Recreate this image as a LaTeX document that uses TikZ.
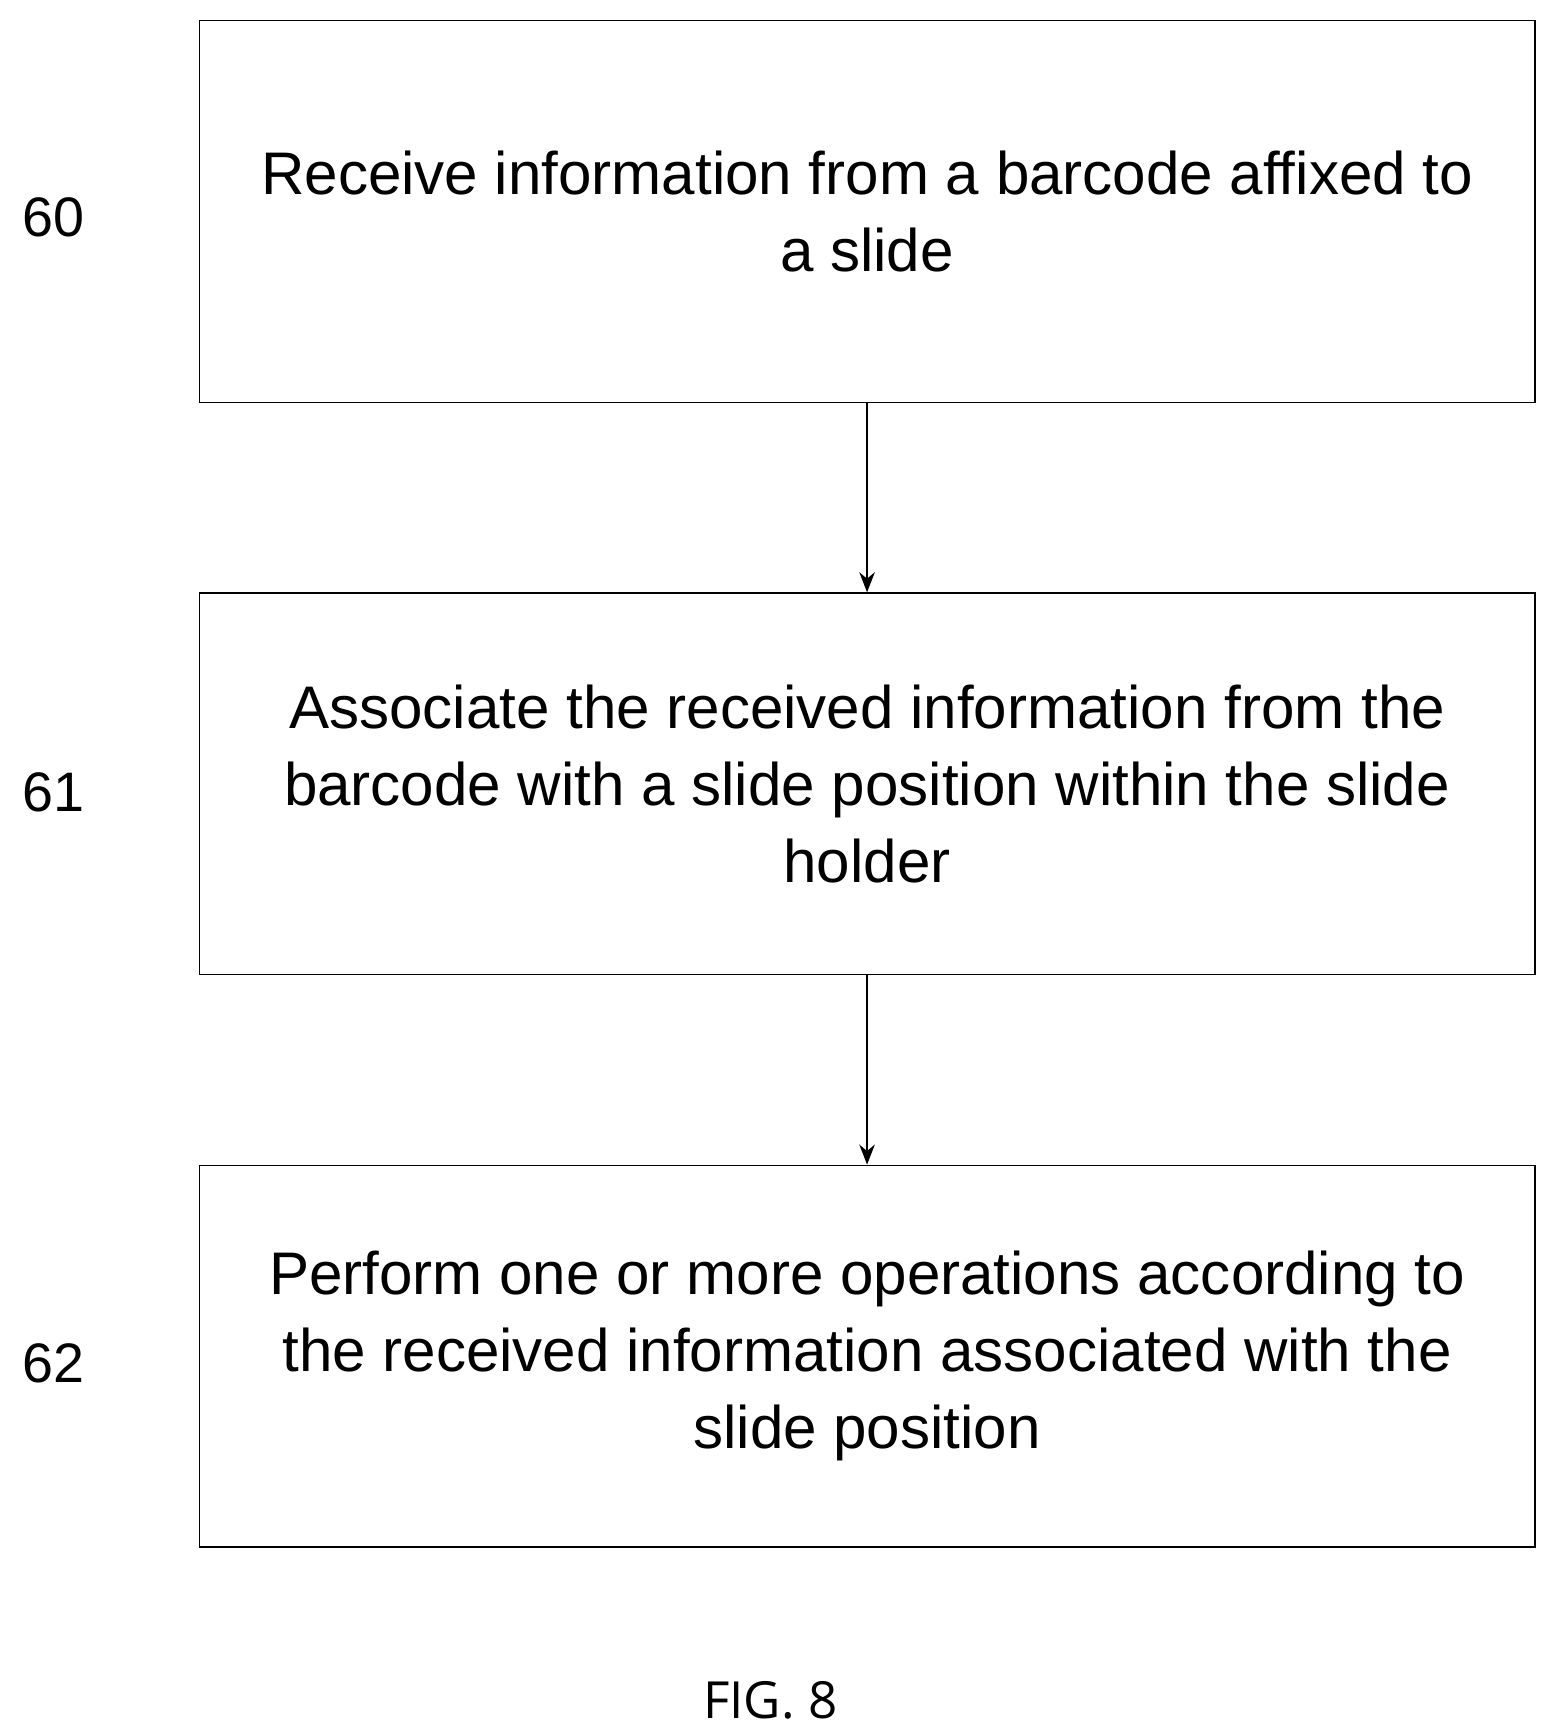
\documentclass[tikz,border=0pt]{standalone}
\usepackage{fontspec}
\setmainfont{Liberation Sans}
\newfontfamily\figfont{Open Sans}
\usetikzlibrary{positioning,arrows.meta}

\begin{document}
\begin{tikzpicture}[x=1pt, y=-1pt, node distance = 170pt,
  stepbox/.style = {draw, line width=1.2pt, minimum width=1200pt, minimum height=343pt, inner sep=0pt, align=center, font=\fontsize{54}{69}\selectfont},
  num/.style = {font=\fontsize{50}{56}\selectfont}]
\useasboundingbox (0,0) rectangle (1390,1557);
\node[stepbox] (recv) at (779, 190) {Receive information from a barcode affixed to\\ a slide};
\node[stepbox, below=of recv] (assoc) {Associate the received information from the\\ barcode with a slide position within the slide\\ holder};
\node[stepbox, below=of assoc] (perform) {Perform one or more operations according to\\ the received information associated with the\\ slide position};

\node[num] (n60) at (48, 195) {60};
\node[num] (n61) at (48, 712) {61};
\node[num] (n62) at (48, 1225) {62};

\node[font=\figfont\fontsize{46}{56}\selectfont] (fig) at (692, 1528) {FIG. 8};

\begin{scope}[line width=1.2pt, -{Stealth[length=18pt, width=14pt]}]
\draw (recv) -- (assoc);
\draw (assoc) -- (perform);
\end{scope}
\end{tikzpicture}
\end{document}
